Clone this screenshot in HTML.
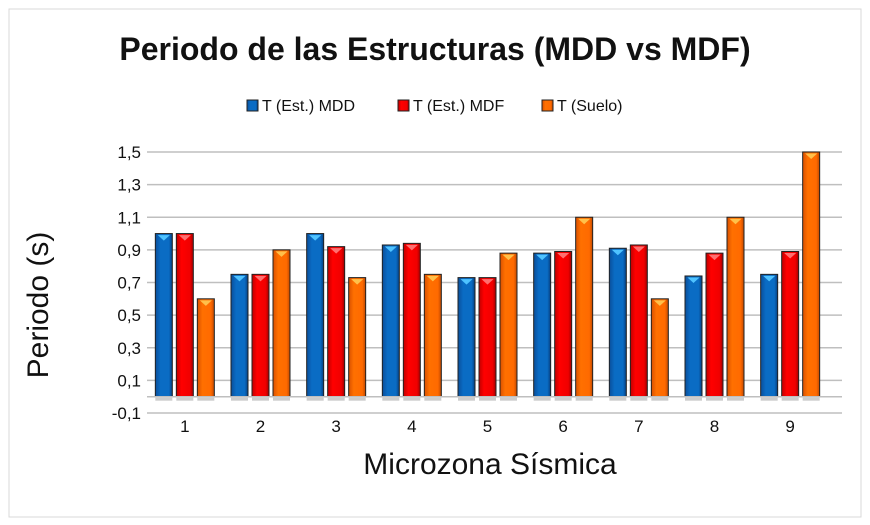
<!DOCTYPE html>
<html><head><meta charset="utf-8"><style>
body{margin:0;background:#fff;}
svg{display:block;font-family:"Liberation Sans",sans-serif;}
</style></head><body>
<svg id="c" width="870" height="525" xmlns="http://www.w3.org/2000/svg">
<defs>
<linearGradient id="gb" x1="0" x2="1"><stop offset="0" stop-color="#0a4e9a"/><stop offset="0.3" stop-color="#0a6cc4"/><stop offset="0.8" stop-color="#0a6cc4"/><stop offset="1" stop-color="#063f80"/></linearGradient>
<linearGradient id="gr" x1="0" x2="1"><stop offset="0" stop-color="#c00000"/><stop offset="0.3" stop-color="#ff0000"/><stop offset="0.8" stop-color="#f00000"/><stop offset="1" stop-color="#a00000"/></linearGradient>
<linearGradient id="go" x1="0" x2="1"><stop offset="0" stop-color="#d95000"/><stop offset="0.3" stop-color="#ff7000"/><stop offset="0.8" stop-color="#ff6a00"/><stop offset="1" stop-color="#c04800"/></linearGradient>
</defs>
<rect x="9" y="9" width="852" height="508" fill="#fff" stroke="#d9d9d9" stroke-width="1"/>
<text x="435" y="60" text-anchor="middle" font-size="32" font-weight="bold" fill="#111">Periodo de las Estructuras (MDD vs MDF)</text>
<g id="legend"></g>
<g id="grid"></g><g id="bars"></g><g id="axes"></g>
<text x="48" y="305" transform="rotate(-90 48 305)" text-anchor="middle" font-size="30" fill="#111">Periodo (s)</text>
<text x="490" y="474" text-anchor="middle" font-size="30" fill="#111">Microzona Sísmica</text>
</svg>
<script>
const categories=["1","2","3","4","5","6","7","8","9"];
const seriesNames=["T (Est.) MDD","T (Est.) MDF","T (Suelo)"];
const mdd=[1.0,0.75,1.0,0.93,0.73,0.88,0.91,0.74,0.75];
const mdf=[1.0,0.75,0.92,0.94,0.73,0.89,0.93,0.88,0.89];
const suelo=[0.6,0.9,0.73,0.75,0.88,1.1,0.6,1.1,1.5];
const yTicks=[-0.1,0.1,0.3,0.5,0.7,0.9,1.1,1.3,1.5];
const NS="http://www.w3.org/2000/svg";
const X0=147,X1=828,yMin=-0.1,yMax=1.5,YT=152,YB=413;
function y(v){return YB-(v-yMin)/(yMax-yMin)*(YB-YT);}
const bw=(X1-X0)/categories.length;
function xc(i){return X0+bw*(i+0.5);}
function mk(t,a,p){const e=document.createElementNS(NS,t);for(const k in a)e.setAttribute(k,a[k]);(p||document.getElementById('c')).appendChild(e);return e;}
const grid=document.getElementById('grid'),axes=document.getElementById('axes'),bars=document.getElementById('bars');
yTicks.forEach(v=>{
 const l=mk('line',{x1:X0,x2:X1+14,y1:y(v),y2:y(v),stroke:'#bfbfbf','stroke-width':1.5},grid);
 
 
 const t=mk('text',{x:X0-6,y:y(v)+6,'text-anchor':'end','font-size':17,fill:'#111'},axes);
 t.textContent=v.toFixed(1).replace('.',',');
 
 
});
const z=mk('line',{x1:X0,x2:X1+14,y1:y(0),y2:y(0),stroke:'#bfbfbf','stroke-width':1.5},axes);


categories.forEach((c,i)=>{
 const t=mk('text',{x:xc(i),y:432,'text-anchor':'middle','font-size':17,fill:'#111'},axes);
 t.textContent=c;
 
 
});
const series=[mdd,mdf,suelo],fills=['url(#gb)','url(#gr)','url(#go)'],tips=['#4fc3ff','#ff6f6f','#ffc04a'],names=['bar-mdd','bar-mdf','bar-suelo'];
const W=17,gap=21;
series.forEach((s,k)=>{
 s.forEach((v,i)=>{
  const cx=xc(i)+(k-1)*gap,top=y(v),bot=y(0);
  const sh=mk('rect',{x:cx-W/2,y:bot+1,width:W,height:3,fill:'#999',opacity:0.5},bars);
  
  
  const r=mk('rect',{x:cx-W/2,y:top,width:W,height:bot-top,fill:fills[k],stroke:'#222','stroke-width':1},bars);
  
  
  const p=mk('polygon',{points:`${cx-6},${top+1.5} ${cx+6},${top+1.5} ${cx},${top+7}`,fill:tips[k]},bars);
  
  
 });
});
const lg=document.getElementById('legend');
const lx=[247,398,542];
seriesNames.forEach((n,k)=>{
 const r=mk('rect',{x:lx[k],y:100,width:11,height:11,fill:fills[k],stroke:'#222','stroke-width':1},lg);
 
 
 const t=mk('text',{x:lx[k]+15,y:111,'font-size':16,fill:'#111'},lg);
 t.textContent=n;
 
 
});
</script>
</body></html>
